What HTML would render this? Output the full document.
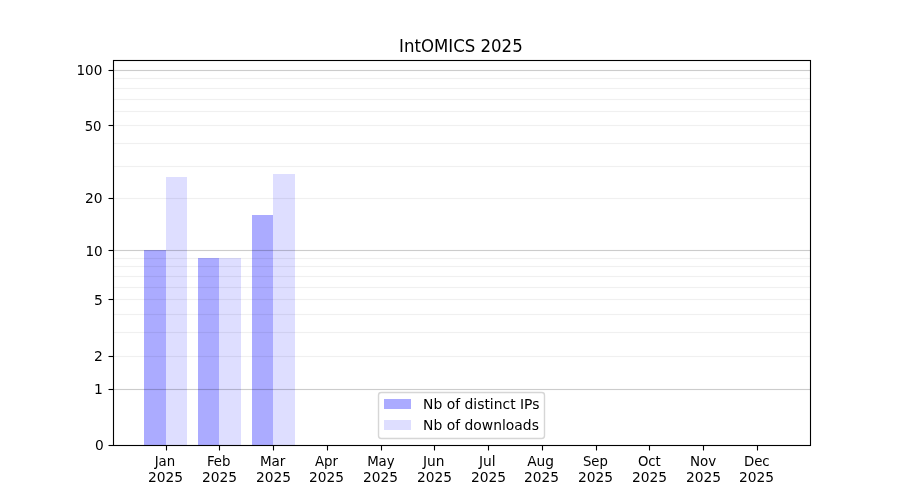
<!DOCTYPE html>
<html lang="en"><head><meta charset="utf-8"><title>IntOMICS 2025</title>
<style>html,body{margin:0;padding:0;background:#fff;width:900px;height:500px;overflow:hidden}svg{display:block}</style></head>
<body>
<svg width="900" height="500" viewBox="0 0 900 500" font-family="'DejaVu Sans', 'Liberation Sans', sans-serif" font-size="13.889px" fill="#000">
<rect width="900" height="500" fill="#fff"/>
<g shape-rendering="crispEdges">
<rect x="144" y="250" width="22" height="195" fill="#ababff"/>
<rect x="166" y="177" width="21" height="268" fill="#dedeff"/>
<rect x="198" y="258" width="21" height="187" fill="#ababff"/>
<rect x="219" y="258" width="22" height="187" fill="#dedeff"/>
<rect x="252" y="215" width="21" height="230" fill="#ababff"/>
<rect x="273" y="174" width="22" height="271" fill="#dedeff"/>
</g>
<g stroke="#000" stroke-width="1.111">
<line x1="113.0" x2="810.0" y1="389.5" y2="389.5" stroke-opacity="0.2"/>
<path d="M112.5 388.0h697.5v1h-697.5zM112.5 390.0h697.5v1h-697.5z" fill="#000" fill-opacity="0.011" stroke="none"/>
<line x1="113.0" x2="810.0" y1="250.5" y2="250.5" stroke-opacity="0.2"/>
<path d="M112.5 249.0h697.5v1h-697.5zM112.5 251.0h697.5v1h-697.5z" fill="#000" fill-opacity="0.011" stroke="none"/>
<line x1="113.0" x2="810.0" y1="70.5" y2="70.5" stroke-opacity="0.2"/>
<path d="M112.5 69.0h697.5v1h-697.5zM112.5 71.0h697.5v1h-697.5z" fill="#000" fill-opacity="0.011" stroke="none"/>
<line x1="113.0" x2="810.0" y1="356.5" y2="356.5" stroke-opacity="0.06"/>
<path d="M112.5 355.0h697.5v1h-697.5zM112.5 357.0h697.5v1h-697.5z" fill="#000" fill-opacity="0.003" stroke="none"/>
<line x1="113.0" x2="810.0" y1="332.5" y2="332.5" stroke-opacity="0.06"/>
<path d="M112.5 331.0h697.5v1h-697.5zM112.5 333.0h697.5v1h-697.5z" fill="#000" fill-opacity="0.003" stroke="none"/>
<line x1="113.0" x2="810.0" y1="314.5" y2="314.5" stroke-opacity="0.06"/>
<path d="M112.5 313.0h697.5v1h-697.5zM112.5 315.0h697.5v1h-697.5z" fill="#000" fill-opacity="0.003" stroke="none"/>
<line x1="113.0" x2="810.0" y1="299.5" y2="299.5" stroke-opacity="0.06"/>
<path d="M112.5 298.0h697.5v1h-697.5zM112.5 300.0h697.5v1h-697.5z" fill="#000" fill-opacity="0.003" stroke="none"/>
<line x1="113.0" x2="810.0" y1="287.5" y2="287.5" stroke-opacity="0.06"/>
<path d="M112.5 286.0h697.5v1h-697.5zM112.5 288.0h697.5v1h-697.5z" fill="#000" fill-opacity="0.003" stroke="none"/>
<line x1="113.0" x2="810.0" y1="276.5" y2="276.5" stroke-opacity="0.06"/>
<path d="M112.5 275.0h697.5v1h-697.5zM112.5 277.0h697.5v1h-697.5z" fill="#000" fill-opacity="0.003" stroke="none"/>
<line x1="113.0" x2="810.0" y1="266.5" y2="266.5" stroke-opacity="0.06"/>
<path d="M112.5 265.0h697.5v1h-697.5zM112.5 267.0h697.5v1h-697.5z" fill="#000" fill-opacity="0.003" stroke="none"/>
<line x1="113.0" x2="810.0" y1="258.5" y2="258.5" stroke-opacity="0.06"/>
<path d="M112.5 257.0h697.5v1h-697.5zM112.5 259.0h697.5v1h-697.5z" fill="#000" fill-opacity="0.003" stroke="none"/>
<line x1="113.0" x2="810.0" y1="198.5" y2="198.5" stroke-opacity="0.06"/>
<path d="M112.5 197.0h697.5v1h-697.5zM112.5 199.0h697.5v1h-697.5z" fill="#000" fill-opacity="0.003" stroke="none"/>
<line x1="113.0" x2="810.0" y1="166.5" y2="166.5" stroke-opacity="0.06"/>
<path d="M112.5 165.0h697.5v1h-697.5zM112.5 167.0h697.5v1h-697.5z" fill="#000" fill-opacity="0.003" stroke="none"/>
<line x1="113.0" x2="810.0" y1="143.5" y2="143.5" stroke-opacity="0.06"/>
<path d="M112.5 142.0h697.5v1h-697.5zM112.5 144.0h697.5v1h-697.5z" fill="#000" fill-opacity="0.003" stroke="none"/>
<line x1="113.0" x2="810.0" y1="125.5" y2="125.5" stroke-opacity="0.06"/>
<path d="M112.5 124.0h697.5v1h-697.5zM112.5 126.0h697.5v1h-697.5z" fill="#000" fill-opacity="0.003" stroke="none"/>
<line x1="113.0" x2="810.0" y1="111.5" y2="111.5" stroke-opacity="0.06"/>
<path d="M112.5 110.0h697.5v1h-697.5zM112.5 112.0h697.5v1h-697.5z" fill="#000" fill-opacity="0.003" stroke="none"/>
<line x1="113.0" x2="810.0" y1="99.5" y2="99.5" stroke-opacity="0.06"/>
<path d="M112.5 98.0h697.5v1h-697.5zM112.5 100.0h697.5v1h-697.5z" fill="#000" fill-opacity="0.003" stroke="none"/>
<line x1="113.0" x2="810.0" y1="88.5" y2="88.5" stroke-opacity="0.06"/>
<path d="M112.5 87.0h697.5v1h-697.5zM112.5 89.0h697.5v1h-697.5z" fill="#000" fill-opacity="0.003" stroke="none"/>
<line x1="113.0" x2="810.0" y1="78.5" y2="78.5" stroke-opacity="0.06"/>
<path d="M112.5 77.0h697.5v1h-697.5zM112.5 79.0h697.5v1h-697.5z" fill="#000" fill-opacity="0.003" stroke="none"/>
</g>
<g stroke="#000" stroke-width="1.111">
<line x1="166.5" x2="166.5" y1="445.5" y2="450.5"/>
<line x1="219.5" x2="219.5" y1="445.5" y2="450.5"/>
<line x1="273.5" x2="273.5" y1="445.5" y2="450.5"/>
<line x1="327.5" x2="327.5" y1="445.5" y2="450.5"/>
<line x1="381.5" x2="381.5" y1="445.5" y2="450.5"/>
<line x1="434.5" x2="434.5" y1="445.5" y2="450.5"/>
<line x1="488.5" x2="488.5" y1="445.5" y2="450.5"/>
<line x1="542.5" x2="542.5" y1="445.5" y2="450.5"/>
<line x1="596.5" x2="596.5" y1="445.5" y2="450.5"/>
<line x1="649.5" x2="649.5" y1="445.5" y2="450.5"/>
<line x1="703.5" x2="703.5" y1="445.5" y2="450.5"/>
<line x1="757.5" x2="757.5" y1="445.5" y2="450.5"/>
<line x1="108.5" x2="113.5" y1="445.5" y2="445.5"/>
<line x1="108.5" x2="113.5" y1="389.5" y2="389.5"/>
<line x1="108.5" x2="113.5" y1="356.5" y2="356.5"/>
<line x1="108.5" x2="113.5" y1="299.5" y2="299.5"/>
<line x1="108.5" x2="113.5" y1="250.5" y2="250.5"/>
<line x1="108.5" x2="113.5" y1="198.5" y2="198.5"/>
<line x1="108.5" x2="113.5" y1="125.5" y2="125.5"/>
<line x1="108.5" x2="113.5" y1="70.5" y2="70.5"/>
</g>
<rect x="113.5" y="60.5" width="697" height="385" fill="none" stroke="#000" stroke-width="1.111"/>
<rect x="378.5" y="392.5" width="166" height="46" rx="2.78" fill="#fff" stroke="#ccc" stroke-width="1.389" opacity="0.8"/>
<rect x="384" y="399" width="27" height="10" fill="#ababff" shape-rendering="crispEdges"/>
<rect x="384" y="420" width="27" height="10" fill="#dedeff" shape-rendering="crispEdges"/>
<text transform="translate(164.95 466.28) scale(0.9143 1)" text-anchor="middle" font-size="14.583px">Jan</text>
<text transform="translate(165.45 481.83) scale(0.9567 1)" text-anchor="middle" font-size="14.445px">2025</text>
<text transform="translate(218.69 466.28) scale(0.9505 1)" text-anchor="middle" font-size="14.028px">Feb</text>
<text transform="translate(219.44 481.83) scale(0.9476 1)" text-anchor="middle" font-size="14.583px">2025</text>
<text transform="translate(272.67 466.28) scale(0.9559 1)" text-anchor="middle" font-size="14.167px">Mar</text>
<text transform="translate(273.42 481.83) scale(0.9612 1)" text-anchor="middle" font-size="14.306px">2025</text>
<text transform="translate(326.41 466.28) scale(0.9178 1)" text-anchor="middle" font-size="14.528px">Apr</text>
<text transform="translate(326.41 481.83) scale(0.9612 1)" text-anchor="middle" font-size="14.306px">2025</text>
<text transform="translate(380.90 466.28) scale(0.9231 1)" text-anchor="middle" font-size="14.445px">May</text>
<text transform="translate(380.40 481.83) scale(0.9612 1)" text-anchor="middle" font-size="14.306px">2025</text>
<text transform="translate(433.63 466.28) scale(0.9429 1)" text-anchor="middle" font-size="14.583px">Jun</text>
<text transform="translate(434.38 481.83) scale(0.9612 1)" text-anchor="middle" font-size="14.306px">2025</text>
<text transform="translate(487.37 466.28) scale(0.9755 1)" text-anchor="middle" font-size="14.167px">Jul</text>
<text transform="translate(488.49 481.83) scale(0.9567 1)" text-anchor="middle" font-size="14.445px">2025</text>
<text transform="translate(540.60 466.28) scale(0.9519 1)" text-anchor="middle" font-size="14.445px">Aug</text>
<text transform="translate(541.60 481.83) scale(0.9706 1)" text-anchor="middle" font-size="14.167px">2025</text>
<text transform="translate(595.34 466.28) scale(0.8879 1)" text-anchor="middle" font-size="14.861px">Sep</text>
<text transform="translate(595.59 481.83) scale(0.9755 1)" text-anchor="middle" font-size="14.167px">2025</text>
<text transform="translate(649.33 466.28) scale(0.9272 1)" text-anchor="middle" font-size="14.306px">Oct</text>
<text transform="translate(649.58 481.83) scale(0.9567 1)" text-anchor="middle" font-size="14.445px">2025</text>
<text transform="translate(703.06 466.28) scale(0.9327 1)" text-anchor="middle" font-size="14.445px">Nov</text>
<text transform="translate(703.56 481.83) scale(0.9567 1)" text-anchor="middle" font-size="14.445px">2025</text>
<text transform="translate(756.80 466.28) scale(0.9231 1)" text-anchor="middle" font-size="14.445px">Dec</text>
<text transform="translate(756.55 481.83) scale(0.9334 1)" text-anchor="middle" font-size="14.806px">2025</text>
<text transform="translate(103.78 450.28) scale(0.9612 1)" text-anchor="end" font-size="14.306px">0</text>
<text transform="translate(102.78 393.94) scale(0.9346 1)" text-anchor="end" font-size="14.861px">1</text>
<text transform="translate(102.78 360.99) scale(0.9470 1)" text-anchor="end" font-size="14.667px">2</text>
<text transform="translate(102.78 304.65) scale(0.9470 1)" text-anchor="end" font-size="14.667px">5</text>
<text transform="translate(102.78 256.39) scale(0.9423 1)" text-anchor="end" font-size="14.445px">10</text>
<text transform="translate(102.53 202.84) scale(0.9567 1)" text-anchor="end" font-size="14.445px">20</text>
<text transform="translate(101.53 130.72) scale(0.9183 1)" text-anchor="end" font-size="14.445px">50</text>
<text transform="translate(102.28 75.19) scale(0.9375 1)" text-anchor="end" font-size="14.445px">100</text>
<text transform="translate(460.88 51.67) scale(0.9162 1)" text-anchor="middle" font-size="18.100px">IntOMICS 2025</text>
<text transform="translate(423.12 409.23) scale(0.9346 1)" font-size="14.861px">Nb of distinct IPs</text>
<text transform="translate(423.12 429.61) scale(0.9524 1)" font-size="14.583px">Nb of downloads</text>
</svg>
</body></html>
